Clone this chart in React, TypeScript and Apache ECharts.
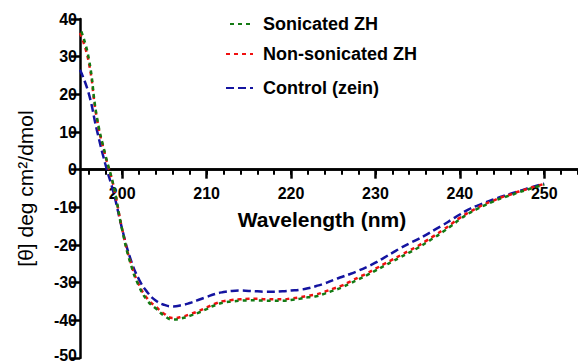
import React, { useEffect, useRef } from "react";
import * as echarts from "echarts";

const wavelengths: number[] = [];
for (let w = 195; w <= 250; w++) wavelengths.push(w);

const sonicated = [
  37.7, 30, 14, 4, -4.5, -16, -25, -31, -34.8, -36.9, -38.8, -39.8, -39.5, -38.8, -38.0, -37.0,
  -36.0, -35.3, -35.0, -34.8, -34.7, -34.7, -34.8, -34.8, -34.8, -34.6, -34.3, -33.9, -33.6, -32.9,
  -32.1, -31.3, -30.2, -29.1, -28.0, -26.8, -25.6, -24.4, -23.2, -22.0, -20.8, -19.4, -18.0, -16.5,
  -14.9, -13.2, -11.7, -10.5, -9.4, -8.4, -7.5, -6.8, -6.0, -5.3, -4.6, -4.0,
];
const nonSonicated = [
  36.3, 29, 13.5, 3.7, -4.6, -15.8, -24.6, -30.6, -34.3, -36.4, -38.3, -39.4, -39.1, -38.4, -37.6, -36.6,
  -35.6, -34.9, -34.6, -34.4, -34.3, -34.3, -34.4, -34.4, -34.4, -34.2, -33.9, -33.5, -33.1, -32.4,
  -31.6, -30.8, -29.7, -28.6, -27.5, -26.3, -25.1, -23.9, -22.7, -21.5, -20.3, -18.9, -17.5, -16.0,
  -14.4, -12.8, -11.4, -10.2, -9.1, -8.2, -7.3, -6.6, -5.8, -5.1, -4.4, -3.8,
];
const control = [
  26.5, 20.5, 10.5, 1.5, -6.3, -15.8, -23.8, -29.2, -32.6, -34.8, -35.9, -36.3, -36.0, -35.4, -34.6, -33.8,
  -33.0, -32.5, -32.2, -32.1, -32.2, -32.3, -32.4, -32.4, -32.3, -32.1, -31.9, -31.5, -30.9, -30.2,
  -29.3, -28.5, -27.7, -26.8, -25.8, -24.7, -23.4, -22.1, -20.8, -19.6, -18.5, -17.3, -16.0, -14.7,
  -13.3, -11.9, -10.6, -9.6, -8.7, -7.9, -7.1, -6.4, -5.7, -5.0, -4.3, -3.7,
];

const majorTicks = [200, 210, 220, 230, 240, 250];
const minorTicks: number[] = [];
for (let t = 196; t <= 254; t += 2) minorTicks.push(t);
const yTicks = [-50, -40, -30, -20, -10, 0, 10, 20, 30, 40];

const FONT = "'Liberation Sans', Arial, sans-serif";

export default function App() {
  const ref = useRef<HTMLDivElement>(null);
  useEffect(() => {
    if (!ref.current) return;
    const chart = echarts.init(ref.current, null, { renderer: "svg" });
    const pair = (arr: number[]) => wavelengths.map((w, i) => [w, arr[i]]);
    const gridTop = 19;
    const gridBottom = 6;
    const gridH = 364 - gridTop - gridBottom;
    const yMin = -50;
    const yMax = 40;
    // shift the bottom x axis up so it sits on y = 0
    const zeroOffset = -(gridH * (0 - yMin)) / (yMax - yMin);
    const legendBase = {
      left: 225,
      padding: 0,
      itemWidth: 27,
      itemHeight: 14,
      itemStyle: { color: "transparent", borderColor: "transparent", borderWidth: 0, opacity: 0 },
      textStyle: { fontFamily: FONT, fontWeight: "bold" as const, fontSize: 18, color: "#000", padding: [0, 0, 0, 5] },
    };
    const tickFont = { fontFamily: FONT, fontWeight: "bold" as const, fontSize: 16, color: "#000" };
    chart.setOption({
      animation: false,
      backgroundColor: "#fff",
      grid: { left: 80, right: 0, top: gridTop, bottom: gridBottom, outerBoundsMode: "none" },
      legend: [
        { ...legendBase, top: 15, data: ["Sonicated ZH"] },
        { ...legendBase, top: 45, data: ["Non-sonicated ZH"] },
        { ...legendBase, top: 79, data: ["Control (zein)"] },
      ],
      xAxis: [
        {
          type: "value",
          min: 195,
          max: 254,
          position: "bottom",
          offset: zeroOffset,
          splitLine: { show: false },
          axisLine: { onZero: false, lineStyle: { color: "#000", width: 2.5 } },
          axisTick: { show: true, customValues: majorTicks, length: 9, lineStyle: { color: "#000", width: 2.5 } },
          axisLabel: { customValues: majorTicks, margin: 16, ...tickFont },
          name: "Wavelength (nm)",
          nameLocation: "middle",
          nameGap: 39,
          nameTextStyle: { fontFamily: FONT, fontWeight: "bold", fontSize: 21, color: "#000", padding: [0, 14, 0, 0] },
        },
        {
          type: "value",
          min: 195,
          max: 254,
          position: "bottom",
          offset: zeroOffset,
          splitLine: { show: false },
          axisLine: { onZero: false, lineStyle: { color: "#000", width: 2.5 } },
          axisTick: { show: true, customValues: minorTicks, length: 5, lineStyle: { color: "#000", width: 2 } },
          axisLabel: { show: false },
        },
      ],
      yAxis: {
        type: "value",
        min: yMin,
        max: yMax,
        interval: 10,
        splitLine: { show: false },
        axisLine: { show: true, onZero: false, lineStyle: { color: "#000", width: 2.5 } },
        axisTick: { show: true, length: 9, lineStyle: { color: "#000", width: 2.5 } },
        axisLabel: {
          margin: 3,
          ...tickFont,
          customValues: yTicks,
          formatter: (v: number) => (v === yMin ? "{lo|" + v + "}" : String(v)),
          rich: { lo: { ...tickFont, padding: [0, 0, 6, 0] } },
        },
        name: "[θ] deg cm²/dmol",
        nameLocation: "middle",
        nameGap: 44,
        nameTextStyle: { fontFamily: FONT, fontSize: 21, color: "#000" },
      },
      series: [
        {
          name: "Control (zein)",
          type: "line",
          data: pair(control),
          smooth: true,
          symbol: "none",
          showSymbol: false,
          lineStyle: { color: "#1414a0", width: 2.5, type: [8, 4] },
          itemStyle: { color: "#1414a0" },
        },
        {
          name: "Non-sonicated ZH",
          type: "line",
          data: pair(nonSonicated),
          smooth: true,
          symbol: "none",
          showSymbol: false,
          lineStyle: { color: "#f01010", width: 2.5, type: [4, 4] },
          itemStyle: { color: "#f01010" },
        },
        {
          name: "Sonicated ZH",
          type: "line",
          data: pair(sonicated),
          smooth: true,
          symbol: "none",
          showSymbol: false,
          lineStyle: { color: "#137a13", width: 2.5, type: [4, 4], dashOffset: 4 },
          itemStyle: { color: "#137a13" },
        },
      ],
    });
    return () => chart.dispose();
  }, []);
  return <div ref={ref} style={{ width: 578, height: 364, position: "absolute", left: 0, top: 0 }} />;
}
